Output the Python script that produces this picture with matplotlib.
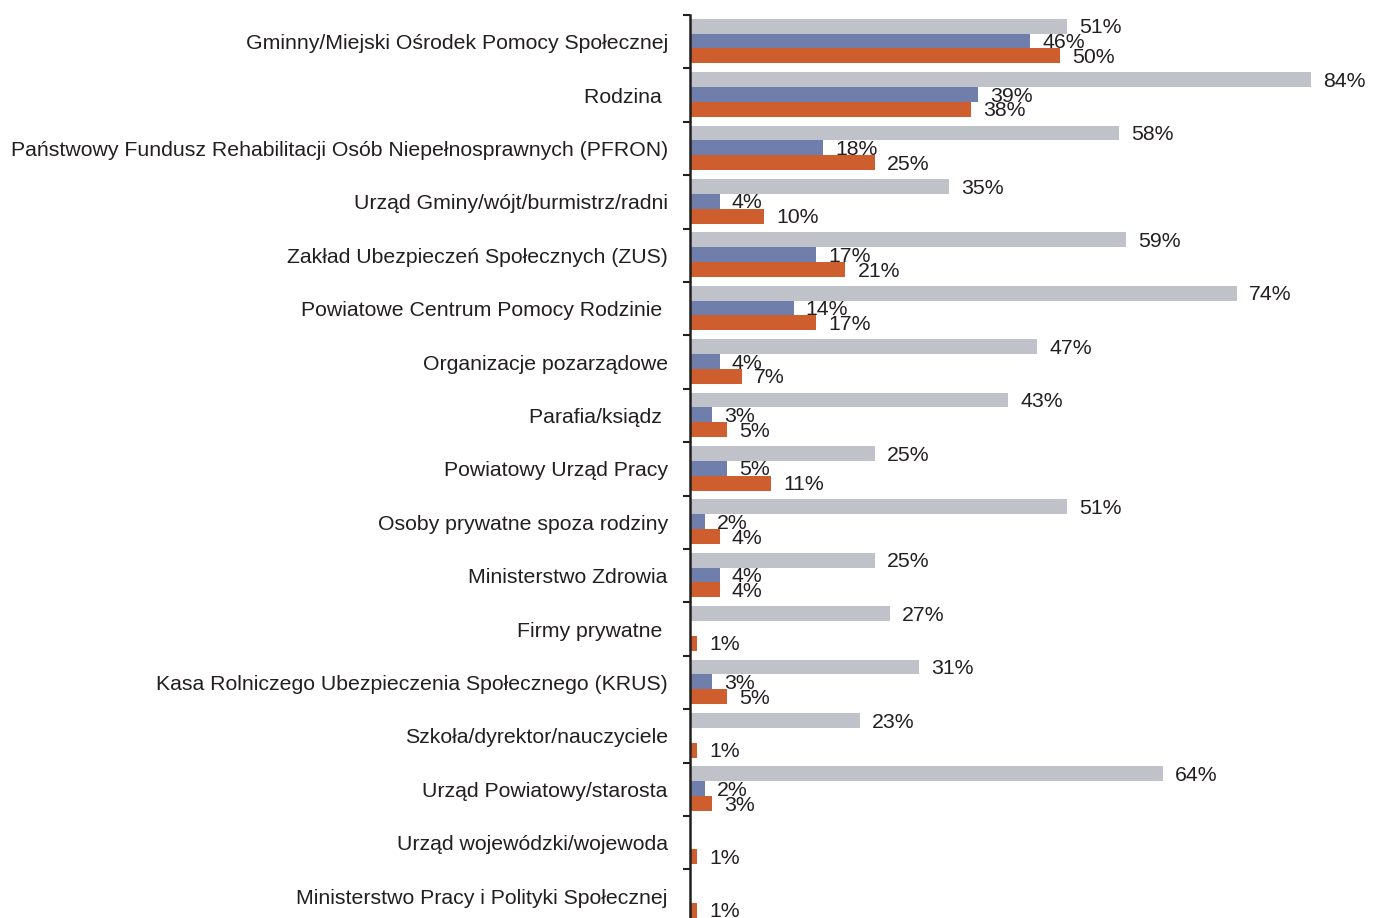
import numpy as np
import matplotlib.pyplot as plt

# categories, top to bottom
categories = [
    "Gminny/Miejski Ośrodek Pomocy Społecznej",
    "Rodzina ",
    "Państwowy Fundusz Rehabilitacji Osób Niepełnosprawnych (PFRON)",
    "Urząd Gminy/wójt/burmistrz/radni",
    "Zakład Ubezpieczeń Społecznych (ZUS)",
    "Powiatowe Centrum Pomocy Rodzinie ",
    "Organizacje pozarządowe",
    "Parafia/ksiądz ",
    "Powiatowy Urząd Pracy",
    "Osoby prywatne spoza rodziny",
    "Ministerstwo Zdrowia",
    "Firmy prywatne ",
    "Kasa Rolniczego Ubezpieczenia Społecznego (KRUS)",
    "Szkoła/dyrektor/nauczyciele",
    "Urząd Powiatowy/starosta",
    "Urząd wojewódzki/wojewoda",
    "Ministerstwo Pracy i Polityki Społecznej",
]

nan = np.nan
gray_vals = [51, 84, 58, 35, 59, 74, 47, 43, 25, 51, 25, 27, 31, 23, 64, nan, nan]
blue_vals = [46, 39, 18, 4, 17, 14, 4, 3, 5, 2, 4, nan, 3, nan, 2, nan, nan]
orange_vals = [50, 38, 25, 10, 21, 17, 7, 5, 11, 4, 4, 1, 5, 1, 3, 1, 1]

gray_c = '#c0c2c9'
blue_c = '#6f7eab'
orange_c = '#cf5e2e'
text_c = '#231f20'

plt.rcParams['font.family'] = ['Liberation Sans', 'DejaVu Sans']

W, H = 1373, 918
fig = plt.figure(figsize=(W/100, H/100), dpi=100)
ax = fig.add_axes([690/W, 0, 680/W, (H-15)/H])

y = np.arange(len(categories))
h = 0.28
series = [(gray_vals, gray_c, -0.29), (blue_vals, blue_c, -0.01), (orange_vals, orange_c, 0.265)]
for vals, col, off in series:
    vals = np.array(vals, dtype=float)
    ax.barh(y + off, np.nan_to_num(vals), height=h, color=col, linewidth=0)
    for yi, v in zip(y, vals):
        if not np.isnan(v):
            ax.text(v + 1.65, yi + off + 0.03, f"{int(v)}%", va='center', ha='left',
                    fontsize=15.3, color=text_c)

px_per_unit = 7.393
ax.set_xlim(0, 680/px_per_unit)
ax.set_ylim(-0.5 + (H-15)/53.4, -0.5)

# ticks at group boundaries, labels at centres
ax.set_yticks(np.arange(len(categories)) - 0.5)
ax.set_yticklabels([])
ax.set_yticks(y, minor=True)
ax.set_yticklabels(categories, minor=True, fontsize=15.3, color=text_c)
ax.tick_params(axis='y', which='major', length=5, width=1.5, color=text_c, direction='out')
ax.tick_params(axis='y', which='minor', length=0, pad=16)
ax.set_xticks([])

for s in ['top', 'right', 'bottom']:
    ax.spines[s].set_visible(False)
ax.spines['left'].set_linewidth(1.8)
ax.spines['left'].set_color(text_c)

fig.savefig('out.png', dpi=100)
